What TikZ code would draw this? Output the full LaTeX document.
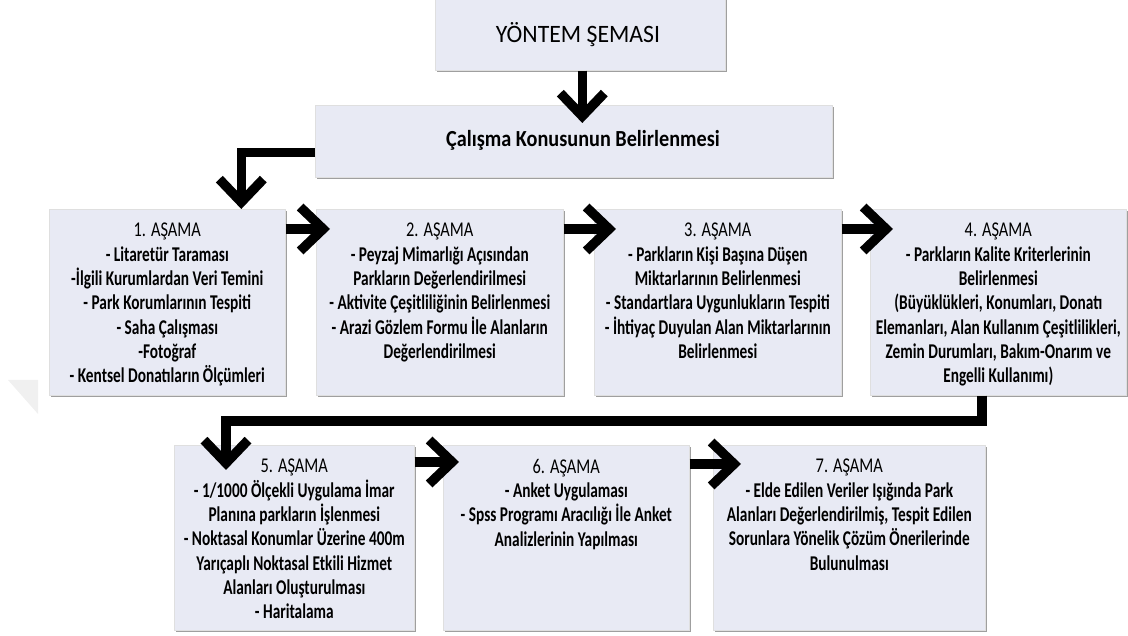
\documentclass[tikz,border=0pt]{standalone}
\usepackage{fontspec}
\setmainfont{Carlito}[FakeStretch=0.73]
\newfontfamily\headfont{Carlito}[FakeStretch=0.78]
\newfontfamily\titlefont{Carlito}[FakeStretch=0.95]
\newfontfamily\studyfont{Carlito}[FakeStretch=0.88]
\usetikzlibrary{positioning,calc,arrows.meta,shadows}
\definecolor{boxfill}{RGB}{232,234,244}
\tikzset{
  box/.style={fill=boxfill, draw=gray!25, line width=0.6pt, inner sep=0pt,
    drop shadow={shadow xshift=1.6pt, shadow yshift=-1.6pt, fill=gray!75, opacity=1}},
  boxtext/.style={align=center, inner sep=0pt, font=\fontsize{21}{24.3}\selectfont\bfseries},
  flow/.style={line width=9.5pt, -{Straight Barb[sharp, length=23pt, width=44pt]}},
}
\newcommand{\stagebox}[5]{% name, north west corner, width, height, text
  \node[box, anchor=north west, minimum width=#3, minimum height=#4] (#1) at (#2) {};
  \node[boxtext, anchor=north] (#1txt) at ([yshift=-14pt]#1.north) {#5}}

\begin{document}
\begin{tikzpicture}[x=1pt,y=1pt]
\useasboundingbox (0,0) rectangle (1128,636);

% faint mark on the left
\fill[gray!12] (8,256) -- (38,256) -- (38,222) -- cycle;

% head boxes
\node[box, anchor=north west, minimum width=290pt, minimum height=75pt] (title) at (435,641) {};
\node[font=\fontsize{25}{28}\selectfont\titlefont] (titletxt) at (578,601) {YÖNTEM ŞEMASI};
\node[box, anchor=north west, minimum width=517pt, minimum height=72pt] (study) at (315,531) {};
\node[font=\fontsize{23}{26}\selectfont\studyfont\bfseries] (studytxt) at (583,496) {Çalışma Konusunun Belirlenmesi};

% stages
\stagebox{b1}{49,427}{236pt}{186pt}{{\headfont\mdseries 1. AŞAMA}\\- Litaretür Taraması\\-İlgili Kurumlardan Veri Temini\\- Park Korumlarının Tespiti\\- Saha Çalışması\\-Fotoğraf\\- Kentsel Donatıların Ölçümleri};
\stagebox{b2}{316,427}{247pt}{186pt}{{\headfont\mdseries 2. AŞAMA}\\- Peyzaj Mimarlığı Açısından\\Parkların Değerlendirilmesi\\- Aktivite Çeşitliliğinin Belirlenmesi\\- Arazi Gözlem Formu İle Alanların\\Değerlendirilmesi};
\stagebox{b3}{594,427}{247pt}{186pt}{{\headfont\mdseries 3. AŞAMA}\\- Parkların Kişi Başına Düşen\\Miktarlarının Belirlenmesi\\- Standartlara Uygunlukların Tespiti\\- İhtiyaç Duyulan Alan Miktarlarının\\Belirlenmesi};
\stagebox{b4}{870,427}{256pt}{186pt}{{\headfont\mdseries 4. AŞAMA}\\- Parkların Kalite Kriterlerinin\\Belirlenmesi\\(Büyüklükleri, Konumları, Donatı\\Elemanları, Alan Kullanım Çeşitlilikleri,\\Zemin Durumları, Bakım-Onarım ve\\Engelli Kullanımı)};
\stagebox{b5}{174,191}{240pt}{185pt}{{\headfont\mdseries 5. AŞAMA}\\- 1/1000 Ölçekli Uygulama İmar\\Planına parkların İşlenmesi\\- Noktasal Konumlar Üzerine 400m\\Yarıçaplı Noktasal Etkili Hizmet\\Alanları Oluşturulması\\- Haritalama};
\stagebox{b6}{443,191}{246pt}{185pt}{{\headfont\mdseries 6. AŞAMA}\\- Anket Uygulaması\\- Spss Programı Aracılığı İle Anket\\Analizlerinin Yapılması};
\stagebox{b7}{713,191}{272pt}{185pt}{{\headfont\mdseries 7. AŞAMA}\\- Elde Edilen Veriler Işığında Park\\Alanları Değerlendirilmiş, Tespit Edilen\\Sorunlara Yönelik Çözüm Önerilerinde\\Bulunulması};

% connectors
\draw[flow] ([xshift=2pt]title.south) -- ([xshift=2pt,yshift=-18pt]title.south |- study.north);
\draw[flow] ([yshift=-11pt]study.west) -| ([xshift=74pt]b1.north);
\draw[flow] ([yshift=-20pt]b1.north east) -- ([yshift=-20pt,xshift=14pt]b2.north west);
\draw[flow] ([yshift=-20pt]b2.north east) -- ([yshift=-20pt,xshift=22pt]b3.north west);
\draw[flow] ([yshift=-20pt]b3.north east) -- ([yshift=-20pt,xshift=23pt]b4.north west);
\draw[flow] ([xshift=-16.5pt]b4.south) |- ([xshift=52pt,yshift=24pt]b5.north west) -- ([xshift=52pt,yshift=-25pt]b5.north west);
\draw[flow] ([yshift=-17pt]b5.north east) -- ([yshift=-17pt,xshift=16pt]b6.north west);
\draw[flow] ([yshift=-19pt]b6.north east) -- ([yshift=-19pt,xshift=28pt]b7.north west);

\end{tikzpicture}
\end{document}
